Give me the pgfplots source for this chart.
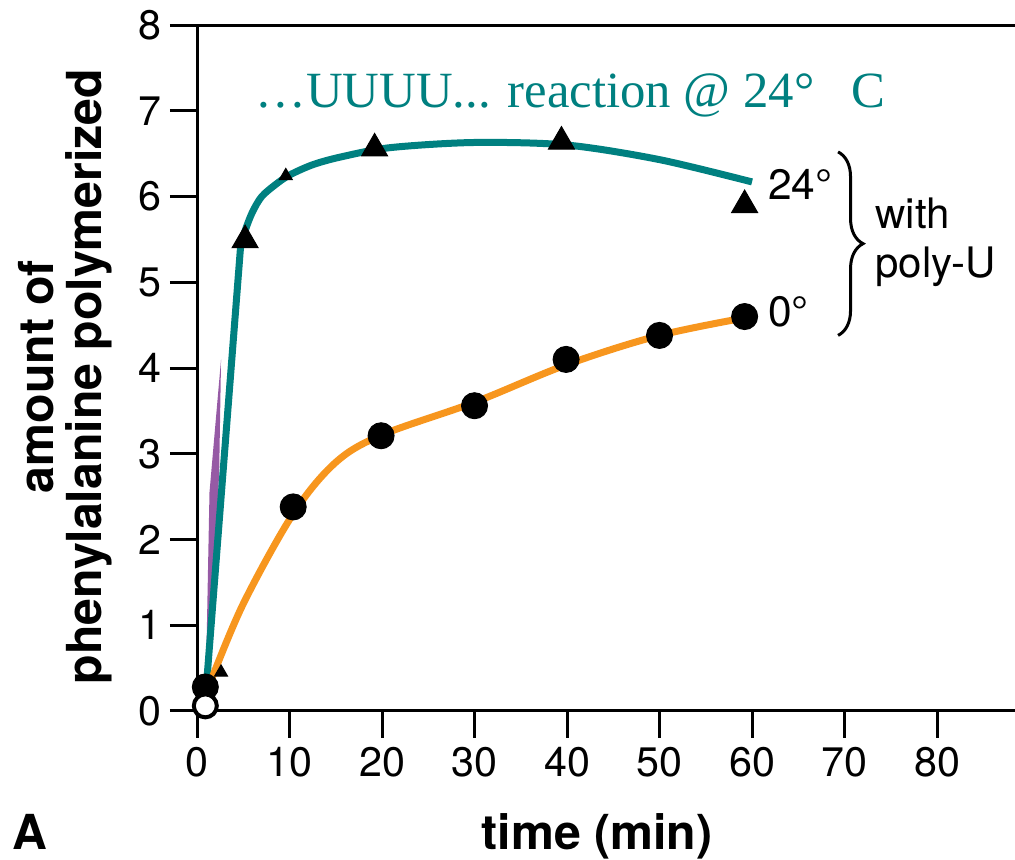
\documentclass[border=0pt]{standalone}
\usepackage{fontspec}
\setmainfont{TeX Gyre Heros}
\newfontfamily\timesfont{Liberation Serif}
\usepackage{pgfplots}
\pgfplotsset{compat=1.18}
\usetikzlibrary{decorations.pathreplacing}
\definecolor{tealc}{RGB}{0,128,128}
\definecolor{orangec}{RGB}{247,150,30}
\definecolor{purplec}{RGB}{150,90,165}

\begin{document}
\begin{tikzpicture}
\begin{axis}[
    at={(0,0)}, anchor=south west,
    scale only axis,
    width=327.2pt, height=274.4pt,
    xmin=0, xmax=88.43, ymin=0, ymax=8,
    axis x line=box, axis y line=left,
    axis line style={line width=1.2pt, -},
    xtick={0,10,...,80}, ytick={0,1,...,8},
    xtick pos=left, ytick pos=left,
    tick align=outside,
    major tick length=10.8pt,
    tick style={line width=1.2pt, black},
    ticklabel style={font=\fontsize{16.5}{18}\selectfont},
    /pgf/number format/assume math mode=true,
    clip=false,
]

% purple sliver near the start
\addplot[fill=purplec, draw=none] coordinates {
    (0.95,0.3)(1.35,2.55)(2.6,4.1)(2.4,2.8)(1.4,0.3)
} -- cycle;

% marks mostly hidden behind the lines
\addplot[only marks, mark=triangle*, mark size=3pt, black] coordinates {(9.6,6.24)};
\addplot[only marks, mark=triangle*, mark size=3pt, black] coordinates {(2.6,0.45)};

% 24 degrees, with poly-U
\addplot[tealc, line width=2.8pt] coordinates {(0.95,0.2)(4.7,5.4)};
\addplot[tealc, line width=2.8pt, smooth, tension=0.5] coordinates {
    (4.7,5.4)(5.2,5.6)(6,5.82)(7,6.0)(8.5,6.14)(10,6.25)(12.5,6.37)
    (15.5,6.46)(20.9,6.57)(30,6.63)(40,6.6)(50,6.43)(60,6.17)
};

% 0 degrees, with poly-U
\addplot[orangec, line width=2.8pt, smooth, tension=0.55] coordinates {
    (1.5,0.35)(5,1.25)(10.4,2.3)(15,2.9)(20,3.22)(30,3.6)
    (40,4.04)(50,4.38)(60,4.6)
};

\addplot[only marks, mark=triangle*, mark size=6pt, black] coordinates {
    (5.2,5.49)(19.2,6.56)(39.4,6.64)(59.2,5.9)
};
\addplot[only marks, mark=*, mark size=5.2pt, black] coordinates {
    (0.9,0.28)(10.4,2.38)(19.9,3.21)(30,3.56)(39.9,4.1)(50,4.38)(59.2,4.6)
};
\addplot[only marks, mark=*, mark size=4.6pt, black, fill=white, line width=1.6pt] coordinates {
    (0.9,0.06)
};

\node[anchor=base west, inner sep=0pt, text=tealc, font=\timesfont\fontsize{20.3}{24}\selectfont]
    at (axis cs:6.27,7.04) {\ldots UUUU... reaction @ 24°\hspace{15pt}C};

\node[anchor=base west, inner sep=0pt, font=\fontsize{17}{19}\selectfont]
    at (axis cs:61.7,5.96) {24°};
\node[anchor=base west, inner sep=0pt, font=\fontsize{17}{19}\selectfont]
    at (axis cs:61.7,4.48) {0°};
\node[anchor=base west, inner sep=0pt, font=\fontsize{16.8}{19.6}\selectfont]
    at (axis cs:73.3,5.63) {with};
\node[anchor=base west, inner sep=0pt, font=\fontsize{16.8}{19.6}\selectfont]
    at (axis cs:73.3,5.06) {poly-U};
\draw[decorate, decoration={brace, amplitude=10pt}, line width=1.2pt]
    (axis cs:69.3,6.52) -- (axis cs:69.3,4.38);
\end{axis}

\node[rotate=90, align=center, font=\bfseries\fontsize{19.3}{19}\selectfont]
    at (-52.8pt,133.8pt) {amount of\\phenylalanine polymerized};
\node[anchor=base, font=\bfseries\fontsize{19.3}{22}\selectfont]
    at (160pt,-55.6pt) {time (min)};
\node[anchor=base west, inner sep=0pt, font=\bfseries\fontsize{19.3}{22}\selectfont]
    at (-74pt,-55.6pt) {A};

\pgfresetboundingbox
\path (-78.8pt,-59.6pt) rectangle (327.2pt,284.4pt);
\end{tikzpicture}
\end{document}
